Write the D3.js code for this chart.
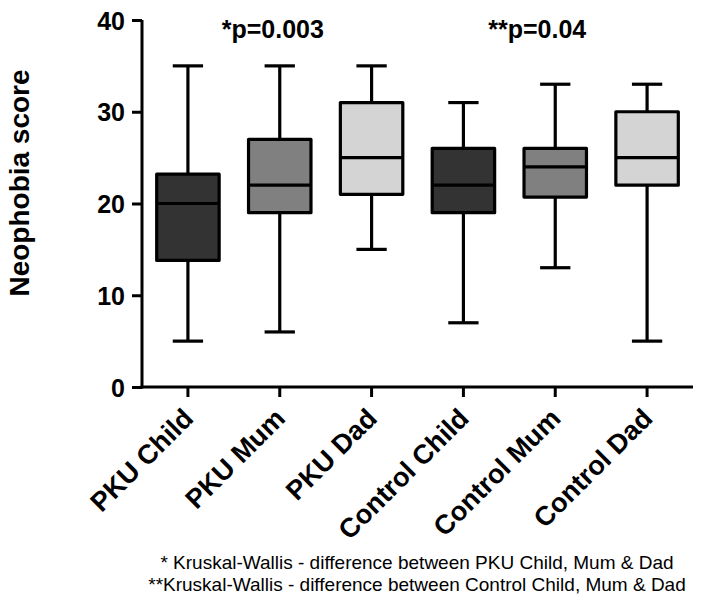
<!DOCTYPE html>
<html>
<head>
<meta charset="utf-8">
<script src="https://d3js.org/d3.v7.min.js"></script>
<style>
body { margin: 0; background: #fff; }
text { font-family: Helvetica, Arial, "Liberation Sans", sans-serif; }
</style>
</head>
<body>
<div class="main_div"></div>
<script>
// data
var groups = ["PKU Child", "PKU Mum", "PKU Dad", "Control Child", "Control Mum", "Control Dad"];
var mins    = [5, 6, 15, 7, 13, 5];
var q1s     = [13.8, 19, 21, 19, 20.7, 22];
var medians = [20, 22, 25, 22, 24, 25];
var q3s     = [23.2, 27, 31, 26, 26, 30];
var maxs    = [35, 35, 35, 31, 33, 33];
var fills   = ["#333333", "#808080", "#d4d4d4", "#333333", "#808080", "#d4d4d4"];
var yTicks  = [0, 10, 20, 30, 40];
var pLabels = [["*p=0.003", 1], ["**p=0.04", 4]];
var notes   = ["* Kruskal-Wallis - difference between PKU Child, Mum & Dad",
               "**Kruskal-Wallis - difference between Control Child, Mum & Dad"];

var W = 701, H = 601;
var mLeft = 142, mRight = 693, mTop = 20, mBottom = 387;

var svg = d3.select(".main_div").append("svg").attr("width", W).attr("height", H);

var x = d3.scaleBand().domain(groups).range([mLeft, mRight]).padding(0);
var y = d3.scaleLinear().domain([0, 40]).range([mBottom, mTop]);

var boxes = groups.map(function(g, i) {
  return {g: g, min: mins[i], q1: q1s[i], med: medians[i], q3: q3s[i], max: maxs[i], fill: fills[i]};
});

var boxW = x.bandwidth() * 0.68, capW = x.bandwidth() * 0.33;
var sw = 3.2;

var bg = svg.selectAll("g.box").data(boxes).enter().append("g")
  .attr("class", "box")
  .attr("transform", function(d) { return "translate(" + (x(d.g) + x.bandwidth() / 2) + ",0)"; });

// whiskers
bg.append("line").attr("x1", 0).attr("x2", 0)
  .attr("y1", function(d) { return y(d.max); }).attr("y2", function(d) { return y(d.q3); })
  .attr("stroke", "#000").attr("stroke-width", sw);
bg.append("line").attr("x1", 0).attr("x2", 0)
  .attr("y1", function(d) { return y(d.q1); }).attr("y2", function(d) { return y(d.min); })
  .attr("stroke", "#000").attr("stroke-width", sw);
bg.append("line").attr("x1", -capW / 2).attr("x2", capW / 2)
  .attr("y1", function(d) { return y(d.max); }).attr("y2", function(d) { return y(d.max); })
  .attr("stroke", "#000").attr("stroke-width", sw);
bg.append("line").attr("x1", -capW / 2).attr("x2", capW / 2)
  .attr("y1", function(d) { return y(d.min); }).attr("y2", function(d) { return y(d.min); })
  .attr("stroke", "#000").attr("stroke-width", sw);
// box
bg.append("rect").attr("x", -boxW / 2).attr("width", boxW)
  .attr("y", function(d) { return y(d.q3); })
  .attr("height", function(d) { return y(d.q1) - y(d.q3); })
  .attr("fill", function(d) { return d.fill; })
  .attr("stroke", "#000").attr("stroke-width", sw).attr("stroke-linejoin", "round");
bg.append("line").attr("x1", -boxW / 2).attr("x2", boxW / 2)
  .attr("y1", function(d) { return y(d.med); }).attr("y2", function(d) { return y(d.med); })
  .attr("stroke", "#000").attr("stroke-width", sw);

// axes
var yAxis = d3.axisLeft(y).tickValues(yTicks).tickSize(10).tickPadding(7);
var yg = svg.append("g").attr("transform", "translate(" + mLeft + ",0)").call(yAxis);
yg.select(".domain").attr("stroke-width", 3).attr("d", "M0," + mTop + "V" + (mBottom + 1.5));
yg.selectAll(".tick line").attr("stroke-width", 3);
yg.selectAll(".tick text").attr("font-size", 25).attr("font-weight", "bold")
  .attr("font-family", "Helvetica, Arial, 'Liberation Sans', sans-serif").attr("fill", "#000")
  .attr("dy", "0.36em");

var xAxis = d3.axisBottom(x).tickSize(10).tickSizeOuter(0);
var xg = svg.append("g").attr("transform", "translate(0," + mBottom + ")").call(xAxis);
xg.select(".domain").attr("stroke-width", 3).attr("d", "M" + (mLeft - 1.5) + ",0H" + mRight);
xg.selectAll(".tick line").attr("stroke-width", 3);
xg.selectAll(".tick text")
  .attr("font-size", 27).attr("font-weight", "bold")
  .attr("font-family", "Helvetica, Arial, 'Liberation Sans', sans-serif").attr("fill", "#000")
  .attr("text-anchor", "end")
  .attr("dy", null).attr("y", 0)
  .attr("transform", "translate(7,33) rotate(-45)");

// y label
svg.append("text")
  .attr("transform", "translate(29,183) rotate(-90)")
  .attr("text-anchor", "middle")
  .attr("font-size", 28).attr("font-weight", "bold")
  .text("Neophobia score");

// p values (left edge placed relative to the group tick)
var pShift = [-58, -67];
svg.selectAll("text.p").data(pLabels).enter().append("text")
  .attr("class", "p")
  .attr("x", function(d, i) { return x(groups[d[1]]) + x.bandwidth() / 2 + pShift[i]; })
  .attr("y", 38)
  .attr("text-anchor", "start")
  .attr("font-size", 25).attr("font-weight", "bold")
  .text(function(d) { return d[0]; });

// footnotes
svg.selectAll("text.note").data(notes).enter().append("text")
  .attr("class", "note")
  .attr("x", 417)
  .attr("y", function(d, i) { return 569 + i * 22; })
  .attr("text-anchor", "middle")
  .attr("font-size", 19)
  .text(function(d) { return d; });
</script>
</body>
</html>
